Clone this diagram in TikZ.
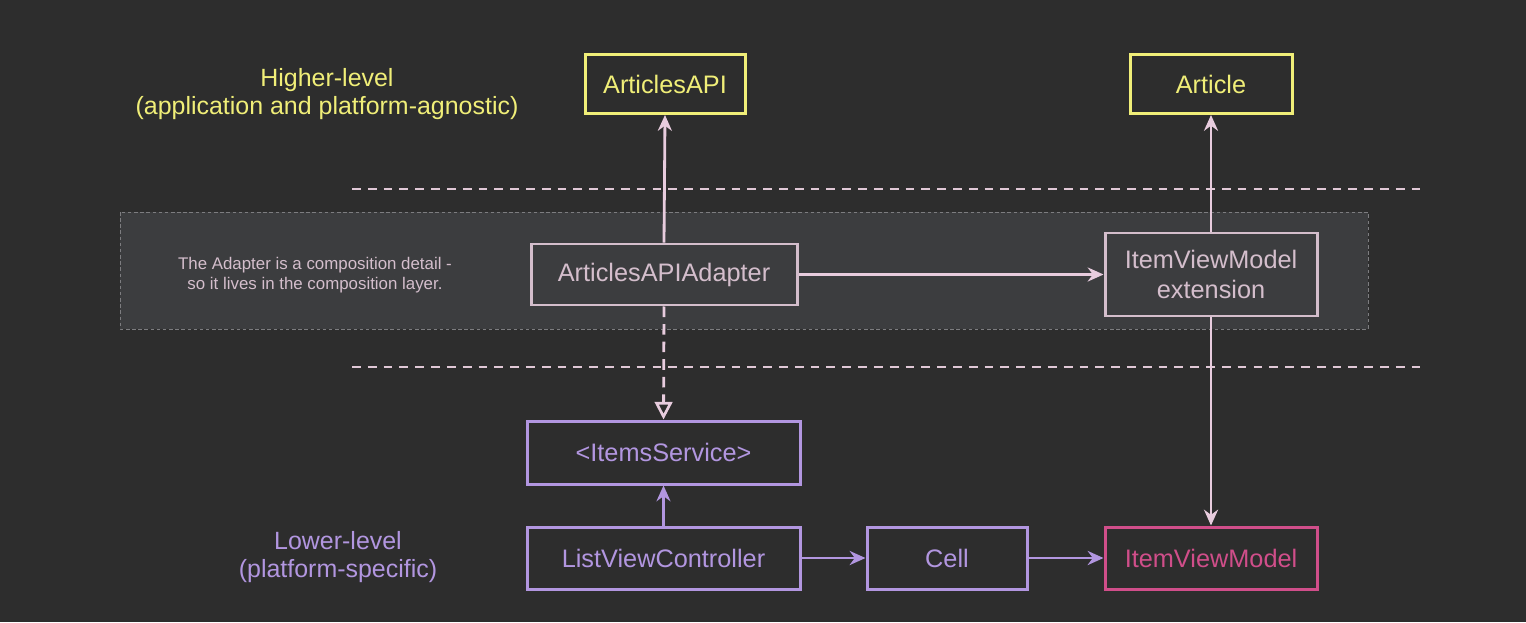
\documentclass[tikz,border=0pt]{standalone}
\usepackage{fontspec}
\setmainfont{Liberation Sans}
\usetikzlibrary{arrows.meta}
\definecolor{bg}{RGB}{45,45,45}
\definecolor{layerfill}{RGB}{60,61,63}
\definecolor{layerline}{RGB}{125,125,128}
\definecolor{ylw}{RGB}{240,238,120}
\definecolor{pnk}{RGB}{212,190,204}
\definecolor{arr}{RGB}{232,204,222}
\definecolor{prp}{RGB}{178,150,224}
\definecolor{mag}{RGB}{208,78,138}
\definecolor{sepcol}{RGB}{224,200,214}
\tikzset{
  box/.style={draw, line width=1.7pt, minimum height=1.18cm, inner sep=0pt, font=\fontsize{14.4}{17}\selectfont, align=center},
  ybox/.style={box, draw=ylw, text=ylw},
  pbox/.style={box, draw=pnk, text=pnk},
  vbox/.style={box, draw=prp, text=prp},
  mbox/.style={box, draw=mag, text=mag},
  conn/.style={line width=1.6pt, draw=arr, -{Stealth[length=9pt,width=8pt]}},
  vconn/.style={line width=1.6pt, draw=prp, -{Stealth[length=9pt,width=8pt]}},
  lbl/.style={font=\fontsize{14.2}{16}\selectfont, align=center}
}
\begin{document}
\begin{tikzpicture}[x=1cm,y=1cm]
\fill[bg] (0,0) rectangle (30.52,-12.44);
\useasboundingbox (0,0) rectangle (30.52,-12.44);
% composition layer
\draw[fill=layerfill, draw=layerline, line width=0.5pt, dash pattern=on 2pt off 1.5pt] (2.40,-4.24) rectangle (27.36,-6.58);
% dashed separators
\draw[sepcol, line width=1pt, dash pattern=on 5pt off 4pt] (7.04,-3.78) -- (28.52,-3.78);
\draw[sepcol, line width=1pt, dash pattern=on 5pt off 4pt] (7.04,-7.34) -- (28.52,-7.34);
% labels
\node[lbl, text=ylw] (hl) at (6.54,-1.88) {Higher-level\\(application and platform-agnostic)};
\node[lbl, text=prp] (ll) at (6.76,-11.14) {Lower-level\\(platform-specific)};
\node[font=\fontsize{9.6}{11.4}\selectfont, align=center, text=pnk] (note) at (6.30,-5.50) {The Adapter is a composition detail -\\so it lives in the composition layer.};
% boxes
\node[ybox, minimum width=3.20cm] (api) at (13.30,-1.68) {ArticlesAPI};
\node[ybox, minimum width=3.24cm] (art) at (24.22,-1.68) {Article};
\node[pbox, minimum width=5.32cm, minimum height=1.22cm] (adp) at (13.28,-5.49) {ArticlesAPIAdapter};
\node[pbox, minimum width=4.24cm, minimum height=1.66cm] (ext) at (24.22,-5.49) {ItemViewModel\\extension};
\node[vbox, minimum width=5.46cm, minimum height=1.26cm] (svc) at (13.27,-9.05) {<ItemsService>};
\node[vbox, minimum width=5.46cm, minimum height=1.24cm] (lvc) at (13.27,-11.16) {ListViewController};
\node[vbox, minimum width=3.20cm, minimum height=1.24cm] (cell) at (18.94,-11.16) {Cell};
\node[mbox, minimum width=4.24cm, minimum height=1.24cm] (ivm) at (24.22,-11.16) {ItemViewModel};
% connectors
\draw[conn] (adp.north) -- (api.south);
\draw[conn] (ext.north) -- (art.south);
\draw[conn] (adp.east) -- (ext.west);
\draw[line width=1.6pt, draw=arr, dash pattern=on 6pt off 4pt, -{Triangle[open, length=10pt, width=10pt, line width=1.5pt]}] (adp.south) -- (svc.north);
\draw[vconn] (lvc.north) -- (svc.south);
\draw[vconn] (lvc.east) -- (cell.west);
\draw[vconn] (cell.east) -- (ivm.west);
\draw[conn] (ext.south) -- (ivm.north);
\end{tikzpicture}
\end{document}
